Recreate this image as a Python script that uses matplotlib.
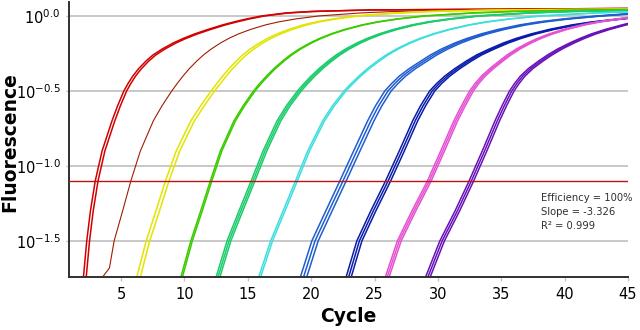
import numpy as np
import matplotlib
matplotlib.use("Agg")
import matplotlib.pyplot as plt
from matplotlib.ticker import NullLocator

# log10 fluorescence levels and, for each dilution, the cycle at which the
# first replicate reaches each level (None = not on the curve)
levels = [-1.9, -1.74, -1.5, -1.3, -1.1, -0.9, -0.7, -0.6, -0.5, -0.45, -0.4, -0.35, -0.3,
          -0.26, -0.22, -0.18, -0.15, -0.12, -0.09, -0.06, -0.04, -0.02, 0.0, 0.02, 0.03, 0.04]

red_cyc = [1.85, 2.03, 2.29, 2.58, 2.96, 3.5, 4.28, 4.72, 5.22, 5.55, 5.93, 6.4, 6.97,
           7.52, 8.25, 9.12, 9.9, 10.8, 11.85, 13.0, 13.9, 14.9, 16.1, 18.0, 20.0, 24.5]
brown_cyc = [None, None, 4.45, 5.12, 5.77, 6.52, 7.54, 8.22, 9.0, 9.43, 9.89, 10.4, 10.98,
             11.5, 12.12, 12.85, 13.49, 14.26, 15.21, 16.38, 17.4, 18.77, 20.6, 23.88, 26.59, 32.08]
yellow_cyc = [5.75, 6.24, 6.98, 7.75, 8.5, 9.35, 10.5, 11.27, 12.1, 12.56, 13.02, 13.53, 14.1,
              14.6, 15.2, 15.91, 16.54, 17.3, 18.22, 19.36, 20.36, 21.7, 23.48, 26.68, 29.32, 34.68]
green_cyc = [9.25, 9.72, 10.5, 11.28, 12.04, 12.83, 13.9, 14.62, 15.45, 15.94, 16.48, 17.07, 17.75,
             18.35, 19.06, 19.91, 20.66, 21.55, 22.64, 24.0, 25.19, 26.77, 28.89, 32.69, 35.83, 42.19]
spring_cyc = [12.0, 12.5, 13.36, 14.3, 15.26, 16.2, 17.3, 18.03, 18.92, 19.44, 20.0, 20.63, 21.34,
              21.97, 22.72, 23.61, 24.4, 25.34, 26.49, 27.92, 29.17, 30.84, 33.07, 37.07, 40.37]
cyan_cyc = [15.35, 15.86, 16.8, 17.78, 18.76, 19.72, 20.9, 21.67, 22.59, 23.16, 23.77, 24.45, 25.23,
            25.91, 26.73, 27.7, 28.56, 29.59, 30.84, 32.4, 33.76, 35.58, 38.01, 42.37]
azure_cyc = [18.6, 19.15, 20.05, 21.15, 22.26, 23.35, 24.45, 25.07, 25.81, 26.35, 26.97, 27.75, 28.67,
             29.41, 30.29, 31.34, 32.28, 33.39, 34.74, 36.43, 37.91, 39.88, 42.51]
navy_cyc = [22.2, 22.76, 23.6, 24.7, 25.87, 26.95, 28.0, 28.62, 29.35, 29.9, 30.55, 31.35, 32.25,
            33.05, 34.06, 35.17, 36.16, 37.34, 38.77, 40.56, 42.12, 44.21]
pink_cyc = [25.3, 25.85, 26.8, 27.95, 29.17, 30.22, 31.25, 31.85, 32.5, 32.93, 33.45, 34.1, 34.84,
            35.46, 36.19, 37.07, 37.84, 38.76, 39.89, 41.29, 42.52, 44.15]
purple_cyc = [28.5, 29.03, 30.15, 31.35, 32.46, 33.5, 34.5, 35.05, 35.65, 36.05, 36.52, 37.15, 37.95,
              38.65, 39.45, 40.4, 41.2, 42.1, 43.2, 44.5]

# baseline points of the low-copy red well before its rise
brown_lead_cyc = [3.0, 4.08]
brown_lead_log = [-1.8, -1.68]

# level reached at the last cycle
end_cycle = 45
end_logs = [0.05, 0.048, 0.046, 0.042, 0.036, 0.028, 0.015, -0.013, -0.01, -0.05]

curve_cycles = [red_cyc, brown_cyc, yellow_cyc, green_cyc, spring_cyc,
                cyan_cyc, azure_cyc, navy_cyc, pink_cyc, purple_cyc]
curve_colors = ["#d20000", "#a01c00", "#e2e400", "#3ccb00", "#1ccc6c",
                "#3fdede", "#1f5ed0", "#0a1caa", "#e452d2", "#6812b8"]
replicate_shifts = [[0, 0.22], [0], [0, 0.28], [0, 0.12], [0, 0.15, 0.3],
                    [0, 0.15], [0, 0.25, 0.5], [0, 0.2, 0.4], [0, 0.15, 0.3], [0, 0.18, 0.36]]
line_widths = [1.1, 0.8, 1.1, 1.1, 1.1, 1.1, 1.1, 1.1, 1.1, 1.1]

threshold_log = -1.1
ytick_logs = [0.0, -0.5, -1.0, -1.5]
ytick_labels = [r"$\mathregular{10^{0.0}}$", r"$\mathregular{10^{-0.5}}$",
                r"$\mathregular{10^{-1.0}}$", r"$\mathregular{10^{-1.5}}$"]
xticks = [5, 10, 15, 20, 25, 30, 35, 40, 45]
stats_lines = ["Efficiency = 100%", "Slope = -3.326", "R\u00b2 = 0.999"]

plt.rcParams["font.family"] = ["DejaVu Sans"]

fig = plt.figure(figsize=(6.4, 3.3), dpi=100)
ax = fig.add_axes([69 / 640, 53 / 330, 559 / 640, 275 / 330])

for i, (cyc, col, shifts, lw) in enumerate(zip(curve_cycles, curve_colors,
                                                 replicate_shifts, line_widths)):
    xs = [c for c in cyc if c is not None]
    ys = [lv for c, lv in zip(cyc, levels) if c is not None]
    if cyc is brown_cyc:
        xs = brown_lead_cyc + xs
        ys = brown_lead_log + ys
    xs = np.array(xs + [end_cycle], dtype=float)
    ys = np.array(ys + [end_logs[i]], dtype=float)
    for s in shifts:
        ax.plot(xs + s, 10 ** ys, color=col, lw=lw, zorder=2, solid_joinstyle="round")

ax.axhline(10 ** threshold_log, color="#c41010", lw=1.0, zorder=3)

ax.set_yscale("log")
ax.set_xlim(0.89, 45)
ax.set_ylim(10 ** -1.74, 10 ** 0.093)
ax.set_yticks([10 ** v for v in ytick_logs])
ax.set_yticklabels(ytick_labels)
ax.yaxis.set_minor_locator(NullLocator())
ax.set_xticks(xticks)
ax.set_xticklabels([str(t) for t in xticks])

ax.grid(axis="y", color="#c4c4c4", lw=1.3, zorder=0)
ax.set_axisbelow(True)
for side in ("top", "right"):
    ax.spines[side].set_visible(False)
for side in ("left", "bottom"):
    ax.spines[side].set_color("#303030")
    ax.spines[side].set_linewidth(1.4)

ax.tick_params(axis="y", length=2, width=1, color="#c4c4c4", pad=4, labelsize=10.5)
ax.tick_params(axis="x", length=3, width=1, color="#c4c4c4", pad=4, labelsize=10.5)

ax.set_xlabel("Cycle", fontsize=13.5, fontweight="bold", va="center")
ax.xaxis.set_label_coords(0.5, (277 - 316) / 275)
ax.set_ylabel("Fluorescence", fontsize=13.5, fontweight="bold", va="center")
ax.yaxis.set_label_coords((10 - 69) / 559, 0.49)

for i, line in enumerate(stats_lines):
    fig.text(541 / 640, 1 - (198 + 14 * i) / 330, line, fontsize=7.2, color="#303030",
             va="center", ha="left")

fig.savefig("out.png", dpi=100)
